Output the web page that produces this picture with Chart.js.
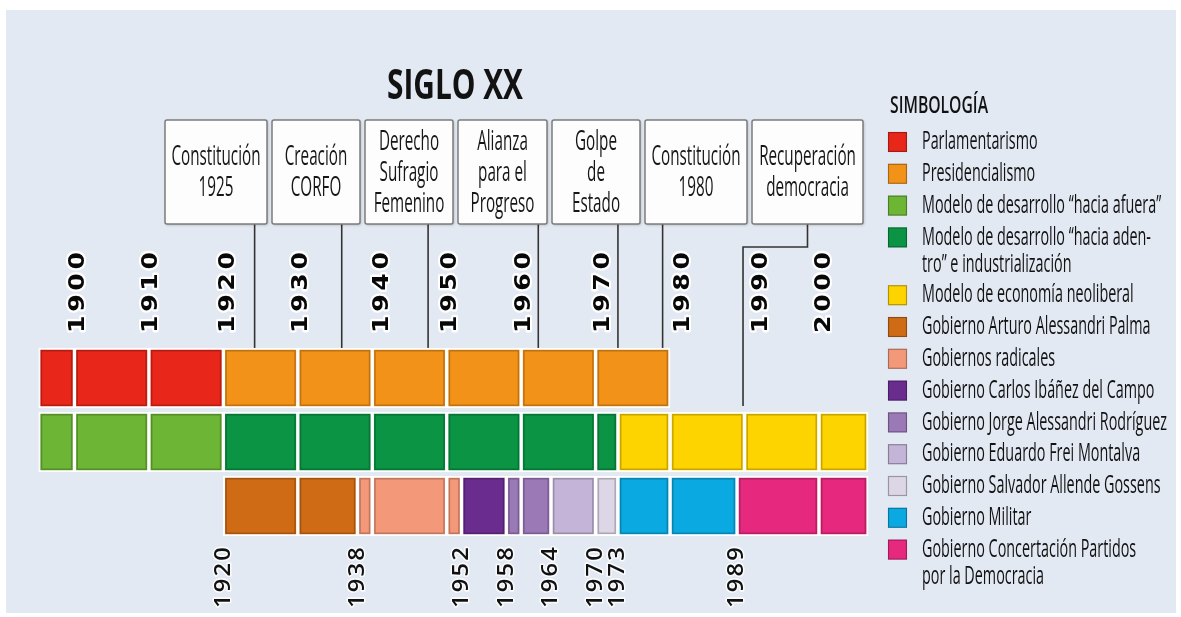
<!DOCTYPE html>
<html lang="es">
<head>
<meta charset="utf-8">
<title>Siglo XX</title>
<script src="https://cdn.jsdelivr.net/npm/chart.js@4.4.1/dist/chart.umd.min.js"></script>
<style>
  html, body { margin: 0; padding: 0; background: #ffffff; }
  #marco { width: 1181px; height: 617px; }
</style>
</head>
<body>
<div id="marco"><canvas id="linea-tiempo" width="1181" height="617"></canvas></div>
<script>
// filas de la linea de tiempo (de arriba hacia abajo)
const filas = ['Régimen político', 'Modelo económico', 'Gobierno'];

// simbologia (una entrada por periodo)
const simbologia = [
  'Parlamentarismo',
  'Presidencialismo',
  'Modelo de desarrollo “hacia afuera”',
  ['Modelo de desarrollo “hacia aden-', 'tro” e industrialización'],
  'Modelo de economía neoliberal',
  'Gobierno Arturo Alessandri Palma',
  'Gobiernos radicales',
  'Gobierno Carlos Ibáñez del Campo',
  'Gobierno Jorge Alessandri Rodríguez',
  'Gobierno Eduardo Frei Montalva',
  'Gobierno Salvador Allende Gossens',
  'Gobierno Militar',
  ['Gobierno Concertación Partidos', 'por la Democracia']
];

// fila donde va cada periodo
const filaPeriodo = [0, 0, 1, 1, 1, 2, 2, 2, 2, 2, 2, 2, 2];

// cortes de cada periodo (años), cada tramo es un bloque
const cortesPeriodo = [
  [1895.2, 1900, 1910, 1920],
  [1920, 1930, 1940, 1950, 1960, 1970, 1980],
  [1895.2, 1900, 1910, 1920],
  [1920, 1930, 1940, 1950, 1960, 1970, 1973],
  [1973, 1980, 1990, 2000, 2006.6],
  [1920, 1930, 1938],
  [1938, 1940, 1950, 1952],
  [1952, 1958],
  [1958, 1960, 1964],
  [1964, 1970],
  [1970, 1973],
  [1973, 1980, 1989],
  [1989, 2000, 2006.6]
];

const coloresPeriodo = [
  '#e8261a', '#f39219', '#6cb535', '#0a9444', '#fed400', '#cf6b15', '#f4987a',
  '#6b2c8f', '#9b78b6', '#c4b4d7', '#ddd6e6', '#0aa9e2', '#e7287f'
];

// etiquetas de los ejes
const decadas = ['1900', '1910', '1920', '1930', '1940', '1950', '1960', '1970', '1980', '1990', '2000'];
// donde aparece cada etiqueta de decada en la imagen (algunas van corridas)
const posDecadas = [1900, 1909.9, 1920.2, 1930, 1940.9, 1950, 1960, 1970.6, 1981.3, 1991.8, 2000.3];
const aniosGobiernos = [1920, 1938, 1952, 1958, 1964, 1970, 1973, 1989];

// hitos (cajas de arriba) y el año al que apunta su linea
const hitos = [
  ['Constitución', '1925'],
  ['Creación', 'CORFO'],
  ['Derecho', 'Sufragio', 'Femenino'],
  ['Alianza', 'para el', 'Progreso'],
  ['Golpe', 'de', 'Estado'],
  ['Constitución', '1980'],
  ['Recuperación', 'democracia']
];
const anioHito = [1924.2, 1935.9, 1947.5, 1962.3, 1973, 1979, 1989.8];

// ---- layout de las cajas y la simbologia (pixeles)
const cajaIzq = 165, cajaArriba = 120, cajaAlto = 104, cajaSep = 5;
const anchoCajas = [102, 88, 88, 89, 88, 102, 111];
const GROSOR = 60;

function textoAngosto(ctx, texto, x, y, escala, alineacion) {
  ctx.save();
  ctx.translate(x, y);
  ctx.scale(escala, 1);
  ctx.textAlign = alineacion || 'center';
  ctx.textBaseline = 'middle';
  ctx.fillText(texto, 0, 0);
  ctx.restore();
}

const fondo = {
  id: 'fondo',
  beforeDraw(chart) {
    const ctx = chart.ctx;
    ctx.save();
    ctx.fillStyle = '#ffffff';
    ctx.fillRect(0, 0, chart.width, chart.height);
    ctx.fillStyle = '#e3e9f2';
    ctx.fillRect(6, 10, chart.width - 11, chart.height - 14);
    ctx.restore();
  }
};

// etiquetas de años estiradas y con espaciado
const etiquetasAnchas = {
  id: 'etiquetasAnchas',
  beforeDraw(chart) {
    [['xSup', 1.2, '3px'], ['x', 1.08, '2px']].forEach(function (a) {
      const s = chart.scales[a[0]];
      if (!s || s._estirada) return;
      const orig = s.drawLabels.bind(s);
      s.drawLabels = function (area) {
        const c = this.ctx;
        const pad = this.options.ticks.padding;
        const yAncla = this.position === 'top' ? this.bottom - pad : this.top + pad;
        c.save();
        c.letterSpacing = a[2];
        c.lineJoin = 'round';
        c.translate(0, yAncla);
        c.scale(1, a[1]);
        c.translate(0, -yAncla);
        orig(area);
        c.restore();
      };
      s._estirada = true;
    });
  }
};

// borde oscuro interior de cada bloque
const bordeOscuro = {
  id: 'bordeOscuro',
  afterDatasetsDraw(chart) {
    const ctx = chart.ctx;
    ctx.save();
    ctx.strokeStyle = 'rgba(0,0,0,0.22)';
    ctx.lineWidth = 1.5;
    chart.data.datasets.forEach(function (ds, i) {
      chart.getDatasetMeta(i).data.forEach(function (el) {
        const p = el.getProps(['x', 'y', 'base', 'height'], true);
        const l = Math.min(p.x, p.base) + 2.75, r = Math.max(p.x, p.base) - 2.75;
        const t = p.y - p.height / 2 + 2.75, b = p.y + p.height / 2 - 2.75;
        if (r - l > 1) ctx.strokeRect(l, t, r - l, b - t);
      });
    });
    ctx.restore();
  }
};

// lineas que bajan de las cajas a la linea de tiempo
const conectores = {
  id: 'conectores',
  beforeDatasetsDraw(chart) {
    const ctx = chart.ctx, x = chart.scales.x, y = chart.scales.y;
    let finFila0 = 0;
    cortesPeriodo.forEach(function (c, i) { if (filaPeriodo[i] === 0) finFila0 = Math.max(finFila0, ...c); });
    const abajo = cajaArriba + cajaAlto;
    let izq = cajaIzq;
    ctx.save();
    ctx.strokeStyle = '#333333';
    ctx.lineWidth = 1.6;
    hitos.forEach(function (h, i) {
      const centro = izq + anchoCajas[i] / 2;
      const px = x.getPixelForValue(anioHito[i]);
      ctx.beginPath();
      if (anioHito[i] <= finFila0) {
        ctx.moveTo(px, abajo);
        ctx.lineTo(px, y.getPixelForValue(0) - GROSOR / 2);
      } else {
        ctx.moveTo(centro, abajo);
        ctx.lineTo(centro, abajo + 23);
        ctx.lineTo(px, abajo + 23);
        ctx.lineTo(px, y.getPixelForValue(1) - GROSOR / 2 - 6);
      }
      ctx.stroke();
      izq += anchoCajas[i] + cajaSep;
    });
    ctx.restore();
  }
};

// titulo, cajas de hitos y simbologia
const anotaciones = {
  id: 'anotaciones',
  afterDraw(chart) {
    const ctx = chart.ctx;
    ctx.save();
    ctx.fillStyle = '#121212';

    ctx.font = 'bold 42px "Open Sans"';
    textoAngosto(ctx, 'SIGLO XX', 455, 87, 136 / ctx.measureText('SIGLO XX').width);

    // cajas
    ctx.font = '28px "Open Sans"';
    const escCaja = 89 / ctx.measureText('Constitución').width;
    let izq = cajaIzq;
    hitos.forEach(function (lineas, i) {
      const w = anchoCajas[i];
      ctx.save();
      ctx.shadowColor = 'rgba(0,0,0,0.25)';
      ctx.shadowBlur = 3;
      ctx.shadowOffsetX = 1;
      ctx.shadowOffsetY = 1;
      ctx.fillStyle = '#fdfdfd';
      ctx.beginPath();
      ctx.roundRect(izq, cajaArriba, w, cajaAlto, 2);
      ctx.fill();
      ctx.restore();
      ctx.strokeStyle = '#7c7c7c';
      ctx.lineWidth = 1.5;
      ctx.beginPath();
      ctx.roundRect(izq, cajaArriba, w, cajaAlto, 2);
      ctx.stroke();
      ctx.fillStyle = '#161616';
      const cy = cajaArriba + cajaAlto / 2 + 1;
      lineas.forEach(function (t, k) {
        textoAngosto(ctx, t, izq + w / 2, cy + (k - (lineas.length - 1) / 2) * 31, escCaja);
      });
      izq += w + cajaSep;
    });

    // simbologia
    ctx.fillStyle = '#121212';
    ctx.font = '600 24px "Open Sans"';
    textoAngosto(ctx, 'SIMBOLOGÍA', 890, 106, 98 / ctx.measureText('SIMBOLOGÍA').width, 'left');
    ctx.font = '25px "Open Sans"';
    const escLey = 245 / ctx.measureText('Gobierno Jorge Alessandri Rodríguez').width;
    let yy = 142;
    simbologia.forEach(function (nombre, i) {
      const lineas = Array.isArray(nombre) ? nombre : [nombre];
      ctx.fillStyle = coloresPeriodo[i];
      ctx.fillRect(888, yy - 10, 19, 20);
      ctx.strokeStyle = 'rgba(0,0,0,0.3)';
      ctx.lineWidth = 1.2;
      ctx.strokeRect(888.5, yy - 9.5, 18, 19);
      ctx.fillStyle = '#121212';
      lineas.forEach(function (t, k) {
        textoAngosto(ctx, t, 922, yy + k * 27, escLey, 'left');
      });
      yy += 31.8 + (lineas.length - 1) * 26;
    });
    ctx.restore();
  }
};

const datasets = simbologia.map(function (nombre, i) {
  const c = cortesPeriodo[i];
  return {
    label: Array.isArray(nombre) ? nombre.join(' ') : nombre,
    data: c.slice(1).map(function (fin, k) {
      return { x: [c[k], fin], y: filas[filaPeriodo[i]] };
    }),
    backgroundColor: coloresPeriodo[i],
    borderColor: '#ffffff',
    borderWidth: 2,
    borderSkipped: false,
    barThickness: GROSOR,
    grouped: false,
    xAxisID: 'x',
    yAxisID: 'y'
  };
});

new Chart(document.getElementById('linea-tiempo'), {
  type: 'bar',
  data: { labels: filas, datasets: datasets },
  options: {
    indexAxis: 'y',
    responsive: false,
    devicePixelRatio: 1,
    animation: false,
    events: [],
    layout: { padding: { left: 0, right: 27, top: 0, bottom: 0 } },
    plugins: { legend: { display: false }, tooltip: { enabled: false } },
    scales: {
      x: {
        type: 'linear', position: 'bottom', min: 1890, max: 2045,
        grid: { display: false, drawTicks: false }, border: { display: false },
        afterBuildTicks: function (s) { s.ticks = aniosGobiernos.map(function (v) { return { value: v }; }); },
        afterFit: function (s) { s.height = 79; },
        ticks: {
          autoSkip: false, minRotation: 90, maxRotation: 90, padding: 7,
          color: '#111111', font: { family: '"Open Sans"', size: 22, weight: '600' },
          textStrokeColor: 'rgba(255,255,255,0.8)', textStrokeWidth: 3,
          callback: function (v) { return String(v); }
        }
      },
      xSup: {
        type: 'linear', position: 'top', min: 1890, max: 2045,
        grid: { display: false, drawTicks: false }, border: { display: false },
        afterBuildTicks: function (s) { s.ticks = posDecadas.map(function (v) { return { value: v }; }); },
        afterFit: function (s) { s.height = 346; },
        ticks: {
          autoSkip: false, minRotation: 90, maxRotation: 90, padding: 13, labelOffset: 29,
          color: '#080808', font: { family: '"DejaVu Sans"', size: 21, weight: 'bold' },
          textStrokeColor: '#ffffff', textStrokeWidth: 4,
          callback: function (v, i) { return decadas[i]; }
        }
      },
      y: { type: 'category', labels: filas, display: false }
    }
  },
  plugins: [fondo, etiquetasAnchas, conectores, bordeOscuro, anotaciones]
});
</script>
</body>
</html>
